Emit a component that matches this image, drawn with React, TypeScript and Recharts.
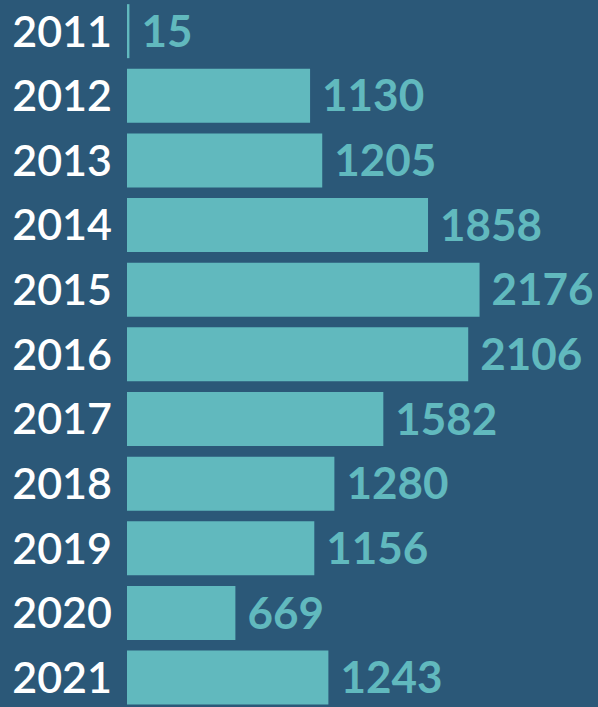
import React from 'react';
import { BarChart, Bar, XAxis, YAxis, LabelList } from 'recharts';

const years = ['2011', '2012', '2013', '2014', '2015', '2016', '2017', '2018', '2019', '2020', '2021'];
const counts = [15, 1130, 1205, 1858, 2176, 2106, 1582, 1280, 1156, 669, 1243];

const data = years.map((y, i) => ({ year: y, value: counts[i] }));

const BG = '#2b5878';
const BAR = '#61b9be';
const FONT = 'Lato, "Open Sans", sans-serif';

export default function App() {
  return (
    <div style={{ position: 'fixed', left: 0, top: 0, width: 598, height: 707, background: BG, overflow: 'hidden' }}>
      <BarChart
        width={598}
        height={707}
        data={data}
        layout="vertical"
        margin={{ top: -1, right: 0, bottom: -3, left: 0 }}
        barCategoryGap="8%"
      >
        <XAxis type="number" domain={[0, 2907]} hide />
        <YAxis
          type="category"
          dataKey="year"
          width={127}
          axisLine={false}
          tickLine={false}
          tickSize={0}
          tickMargin={15}
          tick={{ fill: '#ffffff', fontSize: 43, fontWeight: 600, fontFamily: FONT }}
        />
        <Bar dataKey="value" fill={BAR} isAnimationActive={false}>
          <LabelList
            dataKey="value"
            position="right"
            offset={12}
            fill={BAR}
            style={{ fontSize: 44, fontWeight: 700, fontFamily: FONT }}
          />
        </Bar>
      </BarChart>
    </div>
  );
}
